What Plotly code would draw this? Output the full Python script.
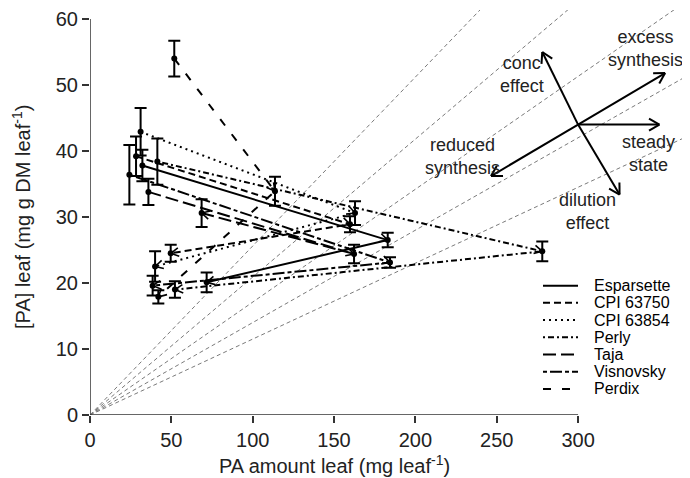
import math
import plotly.graph_objects as go

# ---------------- data ----------------
series_names = ["Esparsette", "CPI 63750", "CPI 63854", "Perly", "Taja", "Visnovsky", "Perdix"]
esparsette_x = [32.2, 183.0, 71.7]
esparsette_y = [37.8, 26.5, 20.1]
esparsette_e = [2.4, 1.1, 1.5]
cpi63750_x = [28.3, 159.8, 49.6]
cpi63750_y = [39.2, 28.9, 24.5]
cpi63750_e = [3.0, 1.2, 1.3]
cpi63854_x = [31.1, 162.9, 40.0]
cpi63854_y = [42.9, 30.6, 22.5]
cpi63854_e = [3.6, 1.8, 2.3]
perly_x = [41.4, 278.0, 52.2]
perly_y = [38.4, 24.8, 19.0]
perly_e = [3.5, 1.5, 1.25]
taja_x = [35.9, 162.3, 68.6]
taja_y = [33.8, 24.4, 30.6]
taja_e = [2.0, 1.4, 2.1]
visnovsky_x = [24.2, 184.4, 38.5]
visnovsky_y = [36.4, 23.1, 19.6]
visnovsky_e = [4.5, 0.8, 1.5]
perdix_x = [51.8, 113.7, 42.0]
perdix_y = [54.0, 33.9, 17.9]
perdix_e = [2.7, 2.2, 1.0]

ref_slopes = [0.256, 0.209, 0.171, 0.140, 0.115]

x_ticks = [0, 50, 100, 150, 200, 250, 300]
y_ticks = [0, 10, 20, 30, 40, 50, 60]

# conceptual arrow diagram (centre, arrow offsets, labels)
diag_center = (300.0, 44.0)
diag_arrows = [(53.5, 7.8), (-53.5, -7.8), (50.0, 0.0), (-22.0, 11.0), (25.5, -10.6)]
diag_labels = [
    ("conc<br>effect", 265.5, 51.6),
    ("excess<br>synthesis", 341.3, 55.6),
    ("reduced<br>synthesis", 229.0, 39.2),
    ("steady<br>state", 343.0, 39.6),
    ("dilution<br>effect", 305.5, 30.8),
]

# ---------------- layout geometry ----------------
W, H = 690, 478
ML, MR, MT, MB = 82, 8, 0, 71
PW, PH = W - ML - MR, H - MT - MB
X_RANGE = [0, 368.8]
Y_RANGE = [0, 61.36]
sx = PW / (X_RANGE[1] - X_RANGE[0])
sy = PH / (Y_RANGE[1] - Y_RANGE[0])


def to_paper(fx, fy):
    return (fx - ML) / PW, 1 - (fy - MT) / PH


dashes = {
    "Esparsette": "solid",
    "CPI 63750": "7px,4px",
    "CPI 63854": "2px,4px",
    "Perly": "2px,3px,6px,3px",
    "Taja": "13px,5px",
    "Visnovsky": "4px,3px,12px,3px",
    "Perdix": "8px,11px",
}
data = {
    "Esparsette": (esparsette_x, esparsette_y, esparsette_e),
    "CPI 63750": (cpi63750_x, cpi63750_y, cpi63750_e),
    "CPI 63854": (cpi63854_x, cpi63854_y, cpi63854_e),
    "Perly": (perly_x, perly_y, perly_e),
    "Taja": (taja_x, taja_y, taja_e),
    "Visnovsky": (visnovsky_x, visnovsky_y, visnovsky_e),
    "Perdix": (perdix_x, perdix_y, perdix_e),
}


def head(p, q, length=9.0, ang=28.0):
    """open arrow head at q for segment p->q, computed in pixel space"""
    dx = (q[0] - p[0]) * sx
    dy = (q[1] - p[1]) * sy
    n = math.hypot(dx, dy)
    ux, uy = dx / n, dy / n
    xs, ys = [], []
    for s in (1, -1):
        a = math.radians(ang) * s
        bx = -(ux * math.cos(a) - uy * math.sin(a)) * length
        by = -(ux * math.sin(a) + uy * math.cos(a)) * length
        xs += [q[0] + bx / sx, q[0], None]
        ys += [q[1] + by / sy, q[1], None]
    return xs, ys


fig = go.Figure()

# reference lines through the origin
for s in ref_slopes:
    fig.add_trace(go.Scatter(x=[0, 400], y=[0, 400 * s], mode="lines",
                             line=dict(color="#7a7a7a", width=1, dash="4px,3px"),
                             showlegend=False, hoverinfo="skip"))

for name in series_names:
    xs, ys, es = data[name]
    fig.add_trace(go.Scatter(x=xs, y=ys, mode="lines", name=name, showlegend=False,
                             line=dict(color="black", width=2, dash=dashes[name])))
    hx, hy = [], []
    for i in range(len(xs) - 1):
        a, b = head((xs[i], ys[i]), (xs[i + 1], ys[i + 1]))
        hx += a
        hy += b
    fig.add_trace(go.Scatter(x=hx, y=hy, mode="lines", line=dict(color="black", width=1.6),
                             showlegend=False, hoverinfo="skip"))
    fig.add_trace(go.Scatter(x=xs, y=ys, mode="markers",
                             marker=dict(color="black", size=6),
                             error_y=dict(type="data", array=es, visible=True,
                                          color="black", thickness=2, width=6),
                             showlegend=False))

# conceptual diagram arrows
cx, cy = diag_center
for ox, oy in diag_arrows:
    tip = (cx + ox, cy + oy)
    fig.add_trace(go.Scatter(x=[cx, tip[0]], y=[cy, tip[1]], mode="lines",
                             line=dict(color="black", width=2), showlegend=False, hoverinfo="skip"))
    a, b = head((cx, cy), tip, length=12, ang=30)
    fig.add_trace(go.Scatter(x=a, y=b, mode="lines", line=dict(color="black", width=2),
                             showlegend=False, hoverinfo="skip"))

for txt, x, y in diag_labels:
    fig.add_annotation(x=x, y=y, text=txt, showarrow=False,
                       font=dict(size=18, color="#222"), align="center")

# manual legend (line sample + label), positioned in figure pixels
leg_x0, leg_x1, leg_tx = 535, 570, 584
leg_y0, leg_dy = 277, 17.3
for i, name in enumerate(series_names):
    fy = leg_y0 + i * leg_dy
    px0, py = to_paper(leg_x0, fy)
    px1, _ = to_paper(leg_x1, fy)
    fig.add_shape(type="line", xref="paper", yref="paper", x0=px0, x1=px1, y0=py, y1=py,
                  line=dict(color="black", width=2, dash=dashes[name]))
    ptx, _ = to_paper(leg_tx, fy)
    fig.add_annotation(xref="paper", yref="paper", x=ptx, y=py, text=name, showarrow=False,
                       xanchor="left", yanchor="middle", font=dict(size=16, color="#000"))

# axis lines
fig.add_shape(type="line", x0=x_ticks[0], x1=x_ticks[-1], y0=0, y1=0,
              line=dict(color="#333", width=1.5))
fig.add_shape(type="line", x0=0, x1=0, y0=y_ticks[0], y1=y_ticks[-1],
              line=dict(color="#333", width=1.5))

tx, ty = to_paper(0, 457)
fig.add_annotation(text="PA amount leaf (mg leaf<sup>-1</sup>)", xref="x", yref="paper",
                   x=150, y=ty, yanchor="middle", showarrow=False,
                   font=dict(size=20, color="#222"))
tx, ty = to_paper(14, 0)
fig.add_annotation(text="[PA] leaf (mg g DM leaf<sup>-1</sup>)", xref="paper", yref="y",
                   x=tx, y=30, xanchor="center", textangle=-90, showarrow=False,
                   font=dict(size=20, color="#222"))

fig.update_layout(
    width=W, height=H,
    margin=dict(l=ML, r=MR, t=MT, b=MB),
    plot_bgcolor="white", paper_bgcolor="white",
    font=dict(family="Liberation Sans, Arial, sans-serif", color="#222"),
    xaxis=dict(range=X_RANGE, tickvals=x_ticks, ticks="outside", ticklen=7,
               tickcolor="#333", tickwidth=1.5, showgrid=False, zeroline=False,
               showline=False, tickfont=dict(size=20), ticklabeloverflow="allow"),
    yaxis=dict(range=Y_RANGE, tickvals=y_ticks, ticks="outside", ticklen=7,
               tickcolor="#333", tickwidth=1.5, showgrid=False, zeroline=False,
               showline=False, tickfont=dict(size=20), ticklabeloverflow="allow"),
    showlegend=False,
)

fig.write_html("out.html")
